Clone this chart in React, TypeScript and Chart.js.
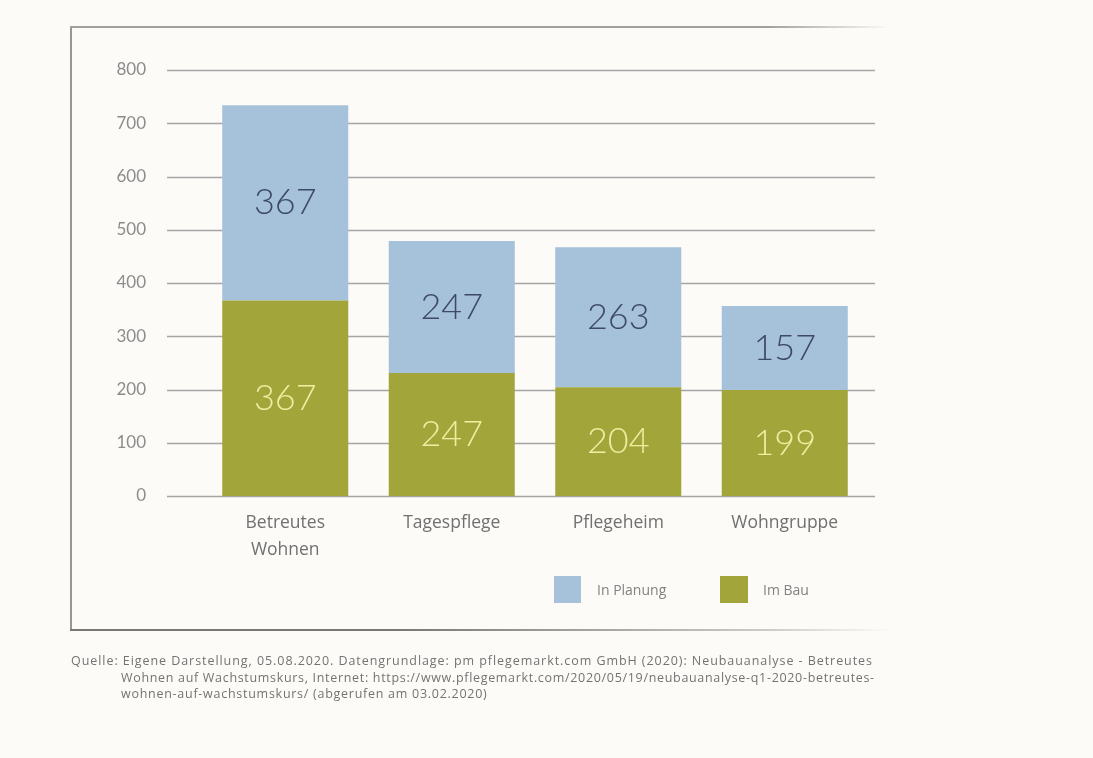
import React, { useEffect, useRef } from "react";
import { Chart, registerables } from "chart.js";

Chart.register(...registerables);

const categories: (string | string[])[] = [["Betreutes", "Wohnen"], "Tagespflege", "Pflegeheim", "Wohngruppe"];
const imBau = [367, 231, 204, 199];
const inPlanung = [367, 248, 263, 158];
const imBauLabels = ["367", "247", "204", "199"];
const inPlanungLabels = ["367", "247", "263", "157"];
const yTicks = [0, 100, 200, 300, 400, 500, 600, 700, 800];
const seriesNames = ["Im Bau", "In Planung"];
const sourceLines = [
  "Quelle: Eigene Darstellung, 05.08.2020. Datengrundlage: pm pflegemarkt.com GmbH (2020): Neubauanalyse - Betreutes",
  "Wohnen auf Wachstumskurs, Internet: https://www.pflegemarkt.com/2020/05/19/neubauanalyse-q1-2020-betreutes-",
  "wohnen-auf-wachstumskurs/ (abgerufen am 03.02.2020)",
];

const BLUE = "rgb(166,193,218)";
const GREEN = "rgb(162,166,58)";
const BG = "#fcfbf8";

export default function App() {
  const ref = useRef<HTMLCanvasElement | null>(null);

  useEffect(() => {
    if (!ref.current) return;
    const gridPlugin = {
      id: "customGrid",
      beforeDatasetsDraw(chart: any) {
        const ctx = chart.ctx;
        const y = chart.scales.y;
        ctx.save();
        ctx.strokeStyle = "rgb(165,165,165)";
        ctx.lineWidth = 1.5;
        yTicks.forEach((v) => {
          const py = Math.round(y.getPixelForValue(v)) + 0.5;
          ctx.beginPath();
          ctx.moveTo(167, py);
          ctx.lineTo(875, py);
          ctx.stroke();
        });
        ctx.restore();
      },
    };
    const labelPlugin = {
      id: "barLabels",
      afterDatasetsDraw(chart: any) {
        const ctx = chart.ctx;
        ctx.save();
        ctx.font = "300 36px Lato, 'Open Sans', sans-serif";
        ctx.textAlign = "center";
        ctx.textBaseline = "middle";
        chart.data.datasets.forEach((ds: any, di: number) => {
          const meta = chart.getDatasetMeta(di);
          const texts = di === 0 ? imBauLabels : inPlanungLabels;
          ctx.fillStyle = di === 0 ? "rgb(240,236,160)" : "rgb(62,74,100)";
          meta.data.forEach((bar: any, i: number) => {
            const cy = (bar.y + bar.base) / 2;
            ctx.fillText(texts[i], bar.x, cy);
          });
        });
        ctx.restore();
      },
    };
    const chart = new Chart(ref.current, {
      type: "bar",
      data: {
        labels: categories,
        datasets: [
          { label: seriesNames[0], data: imBau, backgroundColor: GREEN, borderWidth: 0 },
          { label: seriesNames[1], data: inPlanung, backgroundColor: BLUE, borderWidth: 0 },
        ],
      },
      options: {
        animation: false,
        responsive: false,
        maintainAspectRatio: false,
        layout: { padding: { left: 0, top: 70, right: 225, bottom: 172 } },
        plugins: { legend: { display: false }, tooltip: { enabled: false } },
        datasets: { bar: { categoryPercentage: 1, barPercentage: 0.757 } },
        scales: {
          x: {
            stacked: true,
            grid: { display: false },
            border: { display: false },
            ticks: {
              color: "rgb(112,112,112)",
              font: { family: "'Open Sans', sans-serif", size: 17.5, lineHeight: 1.55 },
              padding: 5,
            },
            afterFit: (s: any) => { s.height = 90; },
          },
          y: {
            stacked: true,
            min: 0,
            max: 800,
            afterBuildTicks: (s: any) => { s.ticks = yTicks.map((v) => ({ value: v })); },
            grid: { display: false },
            border: { display: false },
            ticks: {
              color: "rgb(140,140,140)",
              font: { family: "Lato, sans-serif", size: 17 },
              padding: 48,
            },
            afterFit: (s: any) => { s.width = 202; },
          },
        },
      },
      plugins: [gridPlugin, labelPlugin],
    });
    return () => chart.destroy();
  }, []);

  const legendText: React.CSSProperties = {
    position: "absolute",
    fontFamily: "'Open Sans', sans-serif",
    fontSize: 14,
    color: "rgb(130,130,130)",
    lineHeight: "16px",
  };

  return (
    <div style={{ position: "fixed", left: 0, top: 0, width: 1093, height: 758, background: BG, overflow: "hidden" }}>
      <canvas ref={ref} width={1093} height={758} style={{ position: "absolute", left: 0, top: 0, width: 1093, height: 758 }} />
      {/* frame */}
      <div style={{ position: "absolute", left: 70, top: 26, width: 2, height: 605, background: "rgb(150,150,150)" }} />
      <div style={{ position: "absolute", left: 70, top: 26, width: 820, height: 2, background: "linear-gradient(to right, rgb(160,160,160) 85%, rgba(160,160,160,0))" }} />
      <div style={{ position: "absolute", left: 70, top: 629, width: 820, height: 2, background: "linear-gradient(to right, rgb(120,120,120) 40%, rgba(170,170,170,0.6) 85%, rgba(170,170,170,0))" }} />
      {/* legend */}
      <div style={{ position: "absolute", left: 554, top: 576, width: 27, height: 27, background: BLUE }} />
      <div style={{ ...legendText, left: 597, top: 582 }}>In Planung</div>
      <div style={{ position: "absolute", left: 720, top: 576, width: 28, height: 27, background: GREEN }} />
      <div style={{ ...legendText, left: 763, top: 582 }}>Im Bau</div>
      {/* source */}
      <div style={{ position: "absolute", left: 71, top: 653, fontFamily: "'Open Sans', sans-serif", fontSize: 12.5, color: "rgb(115,115,115)", lineHeight: "16.5px", whiteSpace: "nowrap" }}>
        <div style={{ letterSpacing: 0.94 }}>{sourceLines[0]}</div>
        <div style={{ paddingLeft: 50, letterSpacing: 0.68 }}>{sourceLines[1]}</div>
        <div style={{ paddingLeft: 50, letterSpacing: 0.73 }}>{sourceLines[2]}</div>
      </div>
    </div>
  );
}
